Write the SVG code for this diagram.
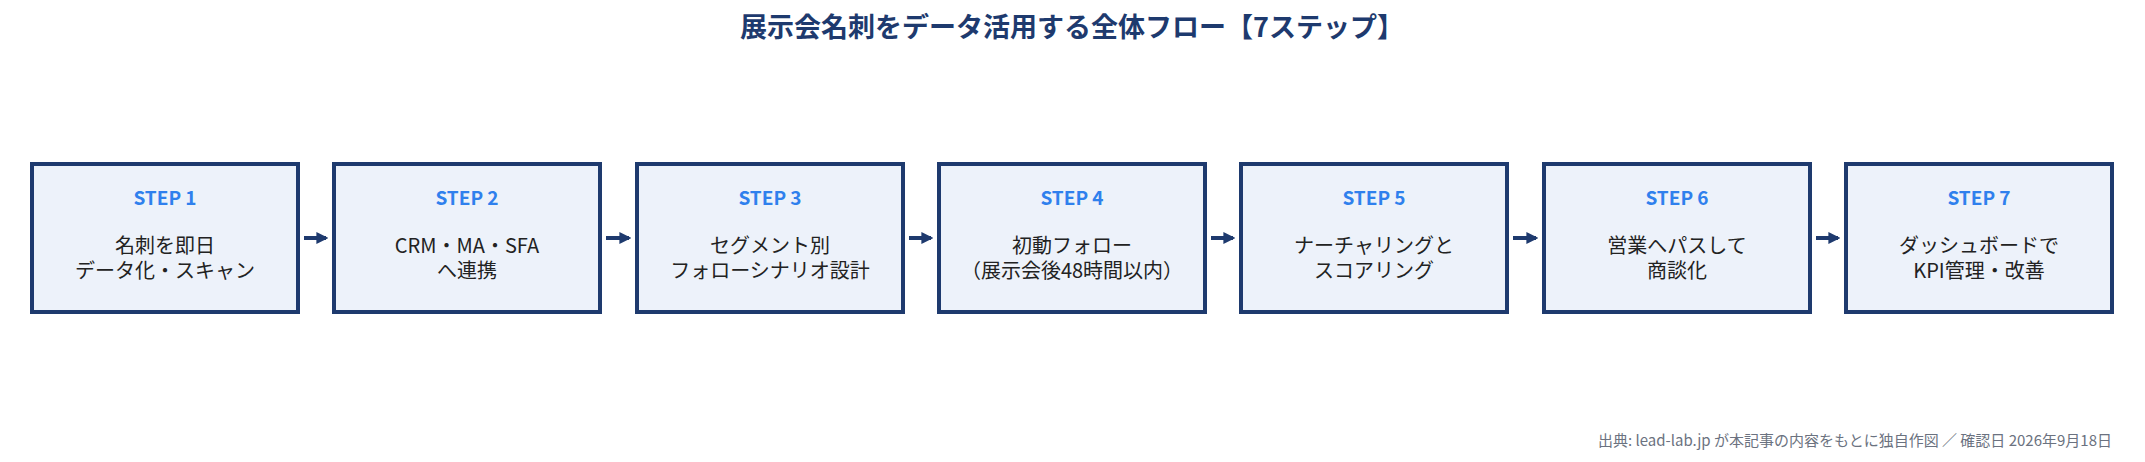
<svg xmlns="http://www.w3.org/2000/svg" width="2145" height="462" viewBox="0 0 2145 462">
<style>
text{font-family:"Noto Sans CJK JP","Noto Sans",sans-serif;text-anchor:middle}
.t{font-size:27px;font-weight:700;fill:#1e3a6e}
.box{fill:#edf2fa;stroke:#1e3a6e;stroke-width:4}
.s{font-size:19px;font-weight:700;fill:#2f80ed}
.b{font-size:20px;fill:#222}
.f{font-size:15px;fill:#6b7280;text-anchor:end}
.c{stroke:#1e3a6e;stroke-width:4;fill:none;marker-end:url(#a)}
</style>
<defs><marker id="a" viewBox="0 0 10 10" refX="8" refY="5" markerWidth="3" markerHeight="3" orient="auto"><path d="M0,0L10,5L0,10z" fill="#1e3a6e"/></marker></defs>
<rect width="2145" height="462" fill="#fff"/>
<text class="t" x="1072" y="37">展示会名刺をデータ活用する全体フロー【7ステップ】</text>
<g id="n1"><rect class="box" x="32" y="164" width="266" height="148"/><text class="s" x="165" y="205">STEP 1</text><text class="b" x="165" y="253">名刺を即日</text><text class="b" x="165" y="278">データ化・スキャン</text></g>
<g id="n2"><rect class="box" x="334" y="164" width="266" height="148"/><text class="s" x="467" y="205">STEP 2</text><text class="b" x="467" y="253">CRM・MA・SFA</text><text class="b" x="467" y="278">へ連携</text></g>
<g id="n3"><rect class="box" x="637" y="164" width="266" height="148"/><text class="s" x="770" y="205">STEP 3</text><text class="b" x="770" y="253">セグメント別</text><text class="b" x="770" y="278">フォローシナリオ設計</text></g>
<g id="n4"><rect class="box" x="939" y="164" width="266" height="148"/><text class="s" x="1072" y="205">STEP 4</text><text class="b" x="1072" y="253">初動フォロー</text><text class="b" x="1072" y="278">（展示会後48時間以内）</text></g>
<g id="n5"><rect class="box" x="1241" y="164" width="266" height="148"/><text class="s" x="1374" y="205">STEP 5</text><text class="b" x="1374" y="253">ナーチャリングと</text><text class="b" x="1374" y="278">スコアリング</text></g>
<g id="n6"><rect class="box" x="1544" y="164" width="266" height="148"/><text class="s" x="1677" y="205">STEP 6</text><text class="b" x="1677" y="253">営業へパスして</text><text class="b" x="1677" y="278">商談化</text></g>
<g id="n7"><rect class="box" x="1846" y="164" width="266" height="148"/><text class="s" x="1979" y="205">STEP 7</text><text class="b" x="1979" y="253">ダッシュボードで</text><text class="b" x="1979" y="278">KPI管理・改善</text></g>
<g id="connectors">
<line class="c" x1="304" y1="238" x2="326" y2="238"/>
<line class="c" x1="606" y1="238" x2="629" y2="238"/>
<line class="c" x1="909" y1="238" x2="931" y2="238"/>
<line class="c" x1="1211" y1="238" x2="1233" y2="238"/>
<line class="c" x1="1513" y1="238" x2="1536" y2="238"/>
<line class="c" x1="1816" y1="238" x2="1838" y2="238"/>
</g>
<text class="f" x="2112" y="446">出典: lead-lab.jp が本記事の内容をもとに独自作図 ／ 確認日 2026年9月18日</text>
</svg>
